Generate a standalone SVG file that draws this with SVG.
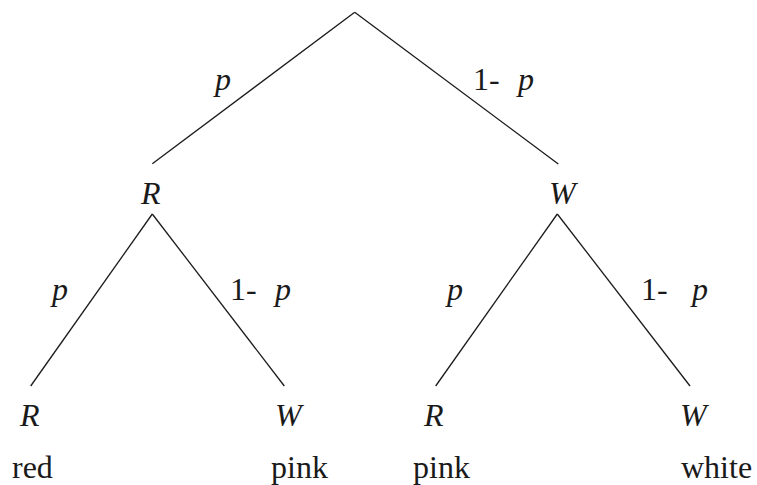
<svg xmlns="http://www.w3.org/2000/svg" width="757" height="485" viewBox="0 0 757 485">
<style>
text{font-family:"Liberation Serif","Times New Roman",serif;font-size:32px;fill:#1a1a1a}
.i{font-style:italic}
line{stroke:#1a1a1a;stroke-width:1.3;fill:none}
</style>
<rect width="757" height="485" fill="#fff"/>
<g id="connectors">
<line x1="354.7" y1="12.3" x2="152.3" y2="163.7"/>
<line x1="354.7" y1="12.3" x2="558.3" y2="164"/>
<line x1="152.3" y1="214" x2="30.7" y2="386"/>
<line x1="152.3" y1="214" x2="284.3" y2="386"/>
<line x1="557.3" y1="214" x2="435.7" y2="386"/>
<line x1="557.3" y1="214" x2="690" y2="386"/>
</g>
<g id="edge-labels">
<text class="i" x="215" y="90">p</text>
<text x="473" y="90">1-<tspan class="i" x="518">p</tspan></text>
<text class="i" x="52" y="300">p</text>
<text x="230" y="300">1-<tspan class="i" x="275">p</tspan></text>
<text class="i" x="447" y="300">p</text>
<text x="641" y="300">1-<tspan class="i" x="692">p</tspan></text>
</g>
<g id="node-R1"><text class="i" x="141" y="204">R</text></g>
<g id="node-W1"><text class="i" x="549" y="204">W</text></g>
<g id="node-RR"><text class="i" x="20" y="426">R</text><text x="12" y="478">red</text></g>
<g id="node-RW"><text class="i" x="275" y="426">W</text><text x="271" y="478">pink</text></g>
<g id="node-WR"><text class="i" x="424" y="426">R</text><text x="413" y="478">pink</text></g>
<g id="node-WW"><text class="i" x="680" y="426">W</text><text x="681" y="478">white</text></g>
</svg>
